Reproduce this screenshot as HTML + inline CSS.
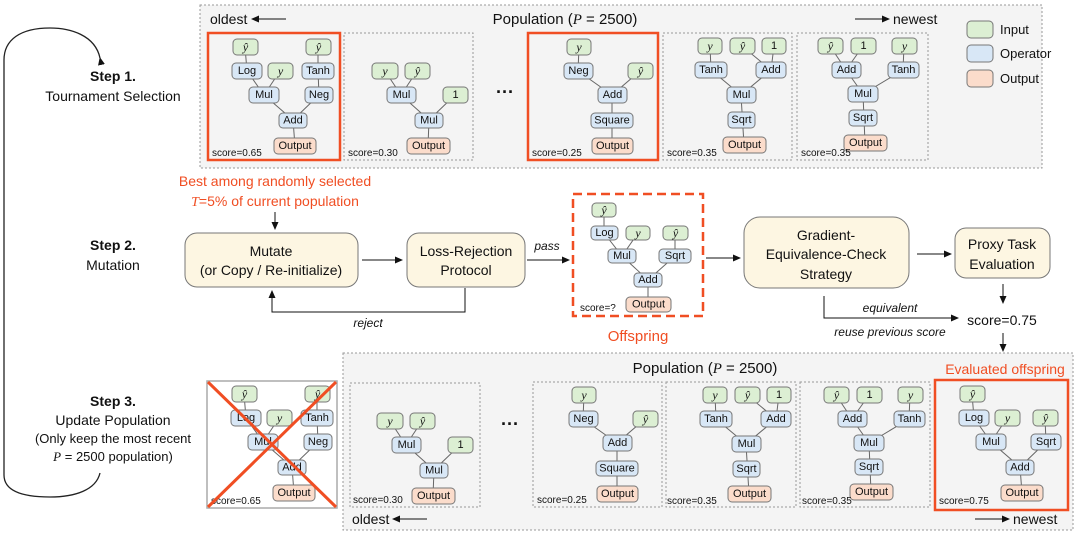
<!DOCTYPE html>
<html><head><meta charset="utf-8"><style>
html,body{margin:0;padding:0;background:#fff}
svg{display:block}
text{font-family:"Liberation Sans",sans-serif;fill:#111}
.t{font-size:11px;text-anchor:middle;dominant-baseline:central}
.m{font-family:"Liberation Serif",serif;font-style:italic;font-size:12px}
.i{fill:#dcefd3;stroke:#777;stroke-width:1}
.o{fill:#d8e7f6;stroke:#777;stroke-width:1}
.u{fill:#fbdccb;stroke:#777;stroke-width:1}
.e{stroke:#666;stroke-width:1}
.s{font-size:10px}
.L{font-size:14px;text-anchor:middle}
.red{fill:#f04e23}
.bx{fill:#fdf6e2;stroke:#777;stroke-width:1}
</style></head><body>
<svg width="1080" height="535" viewBox="0 0 1080 535" xmlns="http://www.w3.org/2000/svg">
<defs><marker id="a" markerWidth="8" markerHeight="8" refX="7" refY="4" orient="auto" markerUnits="userSpaceOnUse"><path d="M0,0.5 L8,4 L0,7.5 z" fill="#111"/></marker></defs>

<!-- loop -->
<path d="M100,58 C95,35 70,28 50,28 C20,28 4,40 4,60 L4,475 C4,492 25,497 50,497 C75,497 96,490 100,473" fill="none" stroke="#222" stroke-width="1.3" marker-start="url(#a)"/>
<text x="113" y="81" class="L" font-weight="bold">Step 1.</text>
<text x="113" y="101" class="L">Tournament Selection</text>
<text x="113" y="250" class="L" font-weight="bold">Step 2.</text>
<text x="113" y="270" class="L">Mutation</text>
<text x="113" y="406" class="L" font-weight="bold">Step 3.</text>
<text x="113" y="425" class="L">Update Population</text>
<text x="113" y="443" class="L" style="font-size:13px">(Only keep the most recent</text>
<text x="113" y="461" class="L" style="font-size:13px"><tspan font-family="Liberation Serif" font-style="italic">P</tspan> = 2500 population)</text>

<!-- top population -->
<rect x="200" y="5" width="842" height="163" fill="#f4f4f4" stroke="#999" stroke-dasharray="2,2"/>
<text x="210" y="24" style="font-size:14px">oldest</text>
<line x1="286" y1="19" x2="252" y2="19" stroke="#111" marker-end="url(#a)"/>
<text x="565" y="24" class="L" style="font-size:15px">Population (<tspan font-family="Liberation Serif" font-style="italic">P</tspan> = 2500)</text>
<line x1="855" y1="19" x2="889" y2="19" stroke="#111" marker-end="url(#a)"/>
<text x="893" y="24" style="font-size:14px">newest</text>

<rect x="208" y="33" width="132" height="127" fill="#f4f4f4" stroke="#f04e23" stroke-width="2.5"/>
<rect x="344" y="33" width="129" height="127" fill="none" stroke="#999" stroke-dasharray="2,2"/>
<text x="505" y="98" class="L" style="font-size:18px;font-weight:bold">···</text>
<rect x="528" y="33" width="130" height="127" fill="none" stroke="#f04e23" stroke-width="2.5"/>
<rect x="663" y="33" width="129" height="127" fill="none" stroke="#999" stroke-dasharray="2,2"/>
<rect x="797" y="33" width="131" height="127" fill="none" stroke="#999" stroke-dasharray="2,2"/>

<!-- Tree A top -->
<g transform="translate(208,33)">
<line class="e" x1="37" y1="14" x2="39" y2="38"/><line class="e" x1="39" y1="38" x2="56" y2="62"/><line class="e" x1="72" y1="38" x2="56" y2="62"/><line class="e" x1="110" y1="14" x2="110" y2="38"/><line class="e" x1="110" y1="38" x2="111" y2="62"/><line class="e" x1="56" y1="62" x2="85" y2="87"/><line class="e" x1="111" y1="62" x2="85" y2="87"/><line class="e" x1="85" y1="87" x2="87" y2="113"/>
<rect class="i" x="25" y="6" width="25" height="16" rx="4"/><text class="t m" x="37.5" y="14">ŷ</text>
<rect class="o" x="24" y="30" width="30" height="16" rx="4"/><text class="t" x="39" y="38">Log</text>
<rect class="i" x="60" y="30" width="25" height="16" rx="4"/><text class="t m" x="72.5" y="38">y</text>
<rect class="i" x="98" y="6" width="25" height="16" rx="4"/><text class="t m" x="110.5" y="14">ŷ</text>
<rect class="o" x="94" y="30" width="32" height="16" rx="4"/><text class="t" x="110" y="38">Tanh</text>
<rect class="o" x="41" y="54" width="30" height="16" rx="4"/><text class="t" x="56" y="62">Mul</text>
<rect class="o" x="97" y="54" width="28" height="16" rx="4"/><text class="t" x="111" y="62">Neg</text>
<rect class="o" x="71" y="80" width="28" height="15" rx="4"/><text class="t" x="85" y="87.5">Add</text>
<rect class="u" x="66" y="105" width="42" height="16" rx="4"/><text class="t" x="87" y="113">Output</text>
<text class="s" x="4" y="123">score=0.65</text>
</g>
<!-- Tree B top -->
<g transform="translate(344,33)">
<line class="e" x1="41" y1="38" x2="57" y2="62"/><line class="e" x1="73" y1="38" x2="57" y2="62"/><line class="e" x1="57" y1="62" x2="85" y2="87"/><line class="e" x1="111" y1="62" x2="85" y2="87"/><line class="e" x1="85" y1="87" x2="84" y2="113"/>
<rect class="i" x="28" y="30" width="26" height="16" rx="4"/><text class="t m" x="41" y="38">y</text>
<rect class="i" x="61" y="30" width="25" height="16" rx="4"/><text class="t m" x="73.5" y="38">ŷ</text>
<rect class="o" x="43" y="54" width="29" height="16" rx="4"/><text class="t" x="57.5" y="62">Mul</text>
<rect class="i" x="99" y="54" width="25" height="16" rx="4"/><text class="t" x="111.5" y="62">1</text>
<rect class="o" x="71" y="80" width="28" height="15" rx="4"/><text class="t" x="85" y="87.5">Mul</text>
<rect class="u" x="63" y="105" width="43" height="16" rx="4"/><text class="t" x="84.5" y="113">Output</text>
<text class="s" x="4" y="123">score=0.30</text>
</g>
<!-- Tree C top -->
<g transform="translate(528,33)">
<line class="e" x1="51" y1="14" x2="50" y2="38"/><line class="e" x1="50" y1="38" x2="84" y2="62"/><line class="e" x1="112" y1="38" x2="84" y2="62"/><line class="e" x1="84" y1="62" x2="84" y2="113"/>
<rect class="i" x="39" y="6" width="24" height="16" rx="4"/><text class="t m" x="51" y="14">y</text>
<rect class="o" x="36" y="30" width="29" height="16" rx="4"/><text class="t" x="50.5" y="38">Neg</text>
<rect class="i" x="100" y="30" width="25" height="16" rx="4"/><text class="t m" x="112.5" y="38">ŷ</text>
<rect class="o" x="70" y="54" width="29" height="16" rx="4"/><text class="t" x="84.5" y="62">Add</text>
<rect class="o" x="63" y="80" width="42" height="15" rx="4"/><text class="t" x="84" y="87.5">Square</text>
<rect class="u" x="64" y="105" width="41" height="16" rx="4"/><text class="t" x="84.5" y="113">Output</text>
<text class="s" x="4" y="123">score=0.25</text>
</g>
<!-- Tree D top -->
<g transform="translate(663,33)">
<line class="e" x1="47" y1="13" x2="48" y2="37"/><line class="e" x1="79" y1="13" x2="108" y2="37"/><line class="e" x1="111" y1="13" x2="108" y2="37"/><line class="e" x1="48" y1="37" x2="78" y2="62"/><line class="e" x1="108" y1="37" x2="78" y2="62"/><line class="e" x1="78" y1="62" x2="81" y2="112"/>
<rect class="i" x="35" y="5" width="24" height="16" rx="4"/><text class="t m" x="47" y="13">y</text>
<rect class="i" x="67" y="5" width="25" height="16" rx="4"/><text class="t m" x="79.5" y="13">ŷ</text>
<rect class="i" x="99" y="5" width="24" height="16" rx="4"/><text class="t" x="111" y="13">1</text>
<rect class="o" x="32" y="29" width="32" height="16" rx="4"/><text class="t" x="48" y="37">Tanh</text>
<rect class="o" x="93" y="29" width="30" height="16" rx="4"/><text class="t" x="108" y="37">Add</text>
<rect class="o" x="64" y="54" width="29" height="16" rx="4"/><text class="t" x="78.5" y="62">Mul</text>
<rect class="o" x="65" y="79" width="27" height="16" rx="4"/><text class="t" x="78.5" y="87">Sqrt</text>
<rect class="u" x="60" y="104" width="43" height="16" rx="4"/><text class="t" x="81.5" y="112">Output</text>
<text class="s" x="4" y="123">score=0.35</text>
</g>
<!-- Tree E top -->
<g transform="translate(797,33)">
<line class="e" x1="33" y1="13" x2="49" y2="37"/><line class="e" x1="66" y1="13" x2="49" y2="37"/><line class="e" x1="107" y1="13" x2="106" y2="37"/><line class="e" x1="49" y1="37" x2="66" y2="61"/><line class="e" x1="106" y1="37" x2="66" y2="61"/><line class="e" x1="66" y1="61" x2="68" y2="110"/>
<rect class="i" x="21" y="5" width="25" height="16" rx="4"/><text class="t m" x="33.5" y="13">ŷ</text>
<rect class="i" x="54" y="5" width="25" height="16" rx="4"/><text class="t" x="66.5" y="13">1</text>
<rect class="i" x="95" y="5" width="25" height="16" rx="4"/><text class="t m" x="107.5" y="13">y</text>
<rect class="o" x="35" y="29" width="29" height="16" rx="4"/><text class="t" x="49.5" y="37">Add</text>
<rect class="o" x="91" y="29" width="31" height="16" rx="4"/><text class="t" x="106.5" y="37">Tanh</text>
<rect class="o" x="51" y="53" width="30" height="16" rx="4"/><text class="t" x="66" y="61">Mul</text>
<rect class="o" x="52" y="77" width="28" height="16" rx="4"/><text class="t" x="66" y="85">Sqrt</text>
<rect class="u" x="47" y="102" width="43" height="16" rx="4"/><text class="t" x="68.5" y="110">Output</text>
<text class="s" x="4" y="123">score=0.35</text>
</g>

<!-- legend -->
<rect class="i" x="967" y="21" width="26" height="17" rx="4"/><text x="1000" y="34" style="font-size:13px">Input</text>
<rect class="o" x="967" y="45" width="26" height="17" rx="4"/><text x="1000" y="58" style="font-size:13px">Operator</text>
<rect class="u" x="967" y="70" width="26" height="17" rx="4"/><text x="1000" y="83" style="font-size:13px">Output</text>

<!-- step 2 -->
<text x="275" y="186" class="L red" style="font-size:14px">Best among randomly selected</text>
<text x="275" y="206" class="L red" style="font-size:14px"><tspan font-family="Liberation Serif" font-style="italic" class="red">T</tspan>=5% of current population</text>
<line x1="275" y1="212" x2="275" y2="229" stroke="#111" marker-end="url(#a)"/>
<rect class="bx" x="185" y="233" width="173" height="54" rx="12"/>
<text x="271" y="256" class="L">Mutate</text><text x="271" y="275" class="L">(or Copy / Re-initialize)</text>
<line x1="362" y1="260" x2="402" y2="260" stroke="#111" marker-end="url(#a)"/>
<rect class="bx" x="407" y="233" width="118" height="54" rx="12"/>
<text x="466" y="256" class="L">Loss-Rejection</text><text x="466" y="275" class="L">Protocol</text>
<path d="M465,288 L465,312 L272,312 L272,291" fill="none" stroke="#111" marker-end="url(#a)"/>
<text x="368" y="327" class="L" style="font-size:12px;font-style:italic">reject</text>
<line x1="527" y1="260" x2="569" y2="260" stroke="#111" marker-end="url(#a)"/>
<text x="547" y="250" class="L" style="font-size:12px;font-style:italic">pass</text>
<rect x="573" y="194" width="130" height="122" fill="none" stroke="#f04e23" stroke-width="2.5" stroke-dasharray="9,5"/>
<g transform="translate(573,194)">
<line class="e" x1="31" y1="16" x2="31" y2="39"/><line class="e" x1="31" y1="39" x2="49" y2="62"/><line class="e" x1="65" y1="39" x2="49" y2="62"/><line class="e" x1="102" y1="39" x2="102" y2="62"/><line class="e" x1="49" y1="62" x2="75" y2="86"/><line class="e" x1="102" y1="62" x2="75" y2="86"/><line class="e" x1="75" y1="86" x2="75" y2="110"/>
<rect class="i" x="19" y="9" width="24" height="14" rx="4"/><text class="t m" x="31" y="16">ŷ</text>
<rect class="o" x="18" y="32" width="27" height="14" rx="4"/><text class="t" x="31.5" y="39">Log</text>
<rect class="i" x="53" y="32" width="24" height="14" rx="4"/><text class="t m" x="65" y="39">y</text>
<rect class="i" x="90" y="32" width="25" height="14" rx="4"/><text class="t m" x="102.5" y="39">ŷ</text>
<rect class="o" x="35" y="55" width="28" height="14" rx="4"/><text class="t" x="49" y="62">Mul</text>
<rect class="o" x="86" y="55" width="32" height="14" rx="4"/><text class="t" x="102" y="62">Sqrt</text>
<rect class="o" x="61" y="79" width="28" height="14" rx="4"/><text class="t" x="75" y="86">Add</text>
<rect class="u" x="53" y="103" width="45" height="15" rx="4"/><text class="t" x="75.5" y="110.5">Output</text>
<text class="s" x="7" y="117">score=?</text>
</g>
<text x="638" y="341" class="L red" style="font-size:15px">Offspring</text>
<line x1="706" y1="258" x2="740" y2="258" stroke="#111" marker-end="url(#a)"/>
<rect class="bx" x="744" y="217" width="165" height="71" rx="16"/>
<text x="826" y="240" class="L">Gradient-</text><text x="826" y="259" class="L">Equivalence-Check</text><text x="826" y="279" class="L">Strategy</text>
<line x1="917" y1="254" x2="951" y2="254" stroke="#111" marker-end="url(#a)"/>
<rect class="bx" x="955" y="228" width="95" height="50" rx="11"/>
<text x="1002" y="249" class="L">Proxy Task</text><text x="1002" y="269" class="L">Evaluation</text>
<line x1="1003" y1="284" x2="1003" y2="303" stroke="#111" marker-end="url(#a)"/>
<text x="1002" y="325" class="L">score=0.75</text>
<path d="M824,296 L824,318 L958,318" fill="none" stroke="#111" marker-end="url(#a)"/>
<text x="890" y="312" class="L" style="font-size:12px;font-style:italic">equivalent</text>
<text x="890" y="336" class="L" style="font-size:12px;font-style:italic">reuse previous score</text>
<line x1="1003" y1="333" x2="1003" y2="351" stroke="#111" marker-end="url(#a)"/>

<!-- bottom population -->
<rect x="343" y="353" width="730" height="177" fill="#f4f4f4" stroke="#999" stroke-dasharray="2,2"/>
<text x="705" y="373" class="L" style="font-size:15px">Population (<tspan font-family="Liberation Serif" font-style="italic">P</tspan> = 2500)</text>
<text x="1005" y="374" class="L red" style="font-size:14px">Evaluated offspring</text>
<text x="352" y="524" style="font-size:14px">oldest</text>
<line x1="427" y1="519" x2="393" y2="519" stroke="#111" marker-end="url(#a)"/>
<line x1="975" y1="519" x2="1009" y2="519" stroke="#111" marker-end="url(#a)"/>
<text x="1013" y="524" style="font-size:14px">newest</text>
<rect x="350" y="383" width="130" height="124" fill="none" stroke="#999" stroke-dasharray="2,2"/>
<text x="510" y="430" class="L" style="font-size:18px;font-weight:bold">···</text>
<rect x="533" y="382" width="129" height="125" fill="none" stroke="#999" stroke-dasharray="2,2"/>
<rect x="666" y="382" width="130" height="125" fill="none" stroke="#999" stroke-dasharray="2,2"/>
<rect x="800" y="382" width="130" height="125" fill="none" stroke="#999" stroke-dasharray="2,2"/>
<rect x="935" y="380" width="133" height="130" fill="none" stroke="#f04e23" stroke-width="2.5"/>
<rect x="207" y="381" width="130" height="127" fill="#fff" stroke="#aaa" stroke-width="1.5"/>

<g transform="translate(207,380)">
<line class="e" x1="37" y1="14" x2="39" y2="38"/><line class="e" x1="39" y1="38" x2="56" y2="62"/><line class="e" x1="72" y1="38" x2="56" y2="62"/><line class="e" x1="110" y1="14" x2="110" y2="38"/><line class="e" x1="110" y1="38" x2="111" y2="62"/><line class="e" x1="56" y1="62" x2="85" y2="87"/><line class="e" x1="111" y1="62" x2="85" y2="87"/><line class="e" x1="85" y1="87" x2="87" y2="113"/>
<rect class="i" x="25" y="6" width="25" height="16" rx="4"/><text class="t m" x="37.5" y="14">ŷ</text>
<rect class="o" x="24" y="30" width="30" height="16" rx="4"/><text class="t" x="39" y="38">Log</text>
<rect class="i" x="60" y="30" width="25" height="16" rx="4"/><text class="t m" x="72.5" y="38">y</text>
<rect class="i" x="98" y="6" width="25" height="16" rx="4"/><text class="t m" x="110.5" y="14">ŷ</text>
<rect class="o" x="94" y="30" width="32" height="16" rx="4"/><text class="t" x="110" y="38">Tanh</text>
<rect class="o" x="41" y="54" width="30" height="16" rx="4"/><text class="t" x="56" y="62">Mul</text>
<rect class="o" x="97" y="54" width="28" height="16" rx="4"/><text class="t" x="111" y="62">Neg</text>
<rect class="o" x="71" y="80" width="28" height="15" rx="4"/><text class="t" x="85" y="87.5">Add</text>
<rect class="u" x="66" y="105" width="42" height="16" rx="4"/><text class="t" x="87" y="113">Output</text>
<text class="s" x="4" y="124">score=0.65</text>
</g>
<line x1="208" y1="382" x2="336" y2="507" stroke="#f04e23" stroke-width="3"/>
<line x1="336" y1="382" x2="208" y2="507" stroke="#f04e23" stroke-width="3"/>

<g transform="translate(349,383)">
<line class="e" x1="41" y1="38" x2="57" y2="62"/><line class="e" x1="73" y1="38" x2="57" y2="62"/><line class="e" x1="57" y1="62" x2="85" y2="87"/><line class="e" x1="111" y1="62" x2="85" y2="87"/><line class="e" x1="85" y1="87" x2="84" y2="113"/>
<rect class="i" x="28" y="30" width="26" height="16" rx="4"/><text class="t m" x="41" y="38">y</text>
<rect class="i" x="61" y="30" width="25" height="16" rx="4"/><text class="t m" x="73.5" y="38">ŷ</text>
<rect class="o" x="43" y="54" width="29" height="16" rx="4"/><text class="t" x="57.5" y="62">Mul</text>
<rect class="i" x="99" y="54" width="25" height="16" rx="4"/><text class="t" x="111.5" y="62">1</text>
<rect class="o" x="71" y="80" width="28" height="15" rx="4"/><text class="t" x="85" y="87.5">Mul</text>
<rect class="u" x="63" y="105" width="43" height="16" rx="4"/><text class="t" x="84.5" y="113">Output</text>
<text class="s" x="4" y="120">score=0.30</text>
</g>
<g transform="translate(533,381)">
<line class="e" x1="51" y1="14" x2="50" y2="38"/><line class="e" x1="50" y1="38" x2="84" y2="62"/><line class="e" x1="112" y1="38" x2="84" y2="62"/><line class="e" x1="84" y1="62" x2="84" y2="113"/>
<rect class="i" x="39" y="6" width="24" height="16" rx="4"/><text class="t m" x="51" y="14">y</text>
<rect class="o" x="36" y="30" width="29" height="16" rx="4"/><text class="t" x="50.5" y="38">Neg</text>
<rect class="i" x="100" y="30" width="25" height="16" rx="4"/><text class="t m" x="112.5" y="38">ŷ</text>
<rect class="o" x="70" y="54" width="29" height="16" rx="4"/><text class="t" x="84.5" y="62">Add</text>
<rect class="o" x="63" y="80" width="42" height="15" rx="4"/><text class="t" x="84" y="87.5">Square</text>
<rect class="u" x="64" y="105" width="41" height="16" rx="4"/><text class="t" x="84.5" y="113">Output</text>
<text class="s" x="4" y="122">score=0.25</text>
</g>
<g transform="translate(668,382)">
<line class="e" x1="47" y1="13" x2="48" y2="37"/><line class="e" x1="79" y1="13" x2="108" y2="37"/><line class="e" x1="111" y1="13" x2="108" y2="37"/><line class="e" x1="48" y1="37" x2="78" y2="62"/><line class="e" x1="108" y1="37" x2="78" y2="62"/><line class="e" x1="78" y1="62" x2="81" y2="112"/>
<rect class="i" x="35" y="5" width="24" height="16" rx="4"/><text class="t m" x="47" y="13">y</text>
<rect class="i" x="67" y="5" width="25" height="16" rx="4"/><text class="t m" x="79.5" y="13">ŷ</text>
<rect class="i" x="99" y="5" width="24" height="16" rx="4"/><text class="t" x="111" y="13">1</text>
<rect class="o" x="32" y="29" width="32" height="16" rx="4"/><text class="t" x="48" y="37">Tanh</text>
<rect class="o" x="93" y="29" width="30" height="16" rx="4"/><text class="t" x="108" y="37">Add</text>
<rect class="o" x="64" y="54" width="29" height="16" rx="4"/><text class="t" x="78.5" y="62">Mul</text>
<rect class="o" x="65" y="79" width="27" height="16" rx="4"/><text class="t" x="78.5" y="87">Sqrt</text>
<rect class="u" x="60" y="104" width="43" height="16" rx="4"/><text class="t" x="81.5" y="112">Output</text>
<text class="s" x="-1" y="122">score=0.35</text>
</g>
<g transform="translate(803,382)">
<line class="e" x1="33" y1="13" x2="49" y2="37"/><line class="e" x1="66" y1="13" x2="49" y2="37"/><line class="e" x1="107" y1="13" x2="106" y2="37"/><line class="e" x1="49" y1="37" x2="66" y2="61"/><line class="e" x1="106" y1="37" x2="66" y2="61"/><line class="e" x1="66" y1="61" x2="68" y2="110"/>
<rect class="i" x="21" y="5" width="25" height="16" rx="4"/><text class="t m" x="33.5" y="13">ŷ</text>
<rect class="i" x="54" y="5" width="25" height="16" rx="4"/><text class="t" x="66.5" y="13">1</text>
<rect class="i" x="95" y="5" width="25" height="16" rx="4"/><text class="t m" x="107.5" y="13">y</text>
<rect class="o" x="35" y="29" width="29" height="16" rx="4"/><text class="t" x="49.5" y="37">Add</text>
<rect class="o" x="91" y="29" width="31" height="16" rx="4"/><text class="t" x="106.5" y="37">Tanh</text>
<rect class="o" x="51" y="53" width="30" height="16" rx="4"/><text class="t" x="66" y="61">Mul</text>
<rect class="o" x="52" y="77" width="28" height="16" rx="4"/><text class="t" x="66" y="85">Sqrt</text>
<rect class="u" x="47" y="102" width="43" height="16" rx="4"/><text class="t" x="68.5" y="110">Output</text>
<text class="s" x="-1" y="122">score=0.35</text>
</g>
<g transform="translate(935,380)">
<line class="e" x1="37" y1="14" x2="39" y2="38"/><line class="e" x1="39" y1="38" x2="56" y2="62"/><line class="e" x1="72" y1="38" x2="56" y2="62"/><line class="e" x1="110" y1="38" x2="111" y2="62"/><line class="e" x1="56" y1="62" x2="85" y2="87"/><line class="e" x1="111" y1="62" x2="85" y2="87"/><line class="e" x1="85" y1="87" x2="87" y2="113"/>
<rect class="i" x="25" y="6" width="25" height="16" rx="4"/><text class="t m" x="37.5" y="14">ŷ</text>
<rect class="o" x="24" y="30" width="30" height="16" rx="4"/><text class="t" x="39" y="38">Log</text>
<rect class="i" x="60" y="30" width="25" height="16" rx="4"/><text class="t m" x="72.5" y="38">y</text>
<rect class="i" x="98" y="30" width="25" height="16" rx="4"/><text class="t m" x="110.5" y="38">ŷ</text>
<rect class="o" x="41" y="54" width="30" height="16" rx="4"/><text class="t" x="56" y="62">Mul</text>
<rect class="o" x="96" y="54" width="30" height="16" rx="4"/><text class="t" x="111" y="62">Sqrt</text>
<rect class="o" x="71" y="80" width="28" height="15" rx="4"/><text class="t" x="85" y="87.5">Add</text>
<rect class="u" x="66" y="105" width="42" height="16" rx="4"/><text class="t" x="87" y="113">Output</text>
<text class="s" x="4" y="124">score=0.75</text>
</g>
</svg>
</body></html>
